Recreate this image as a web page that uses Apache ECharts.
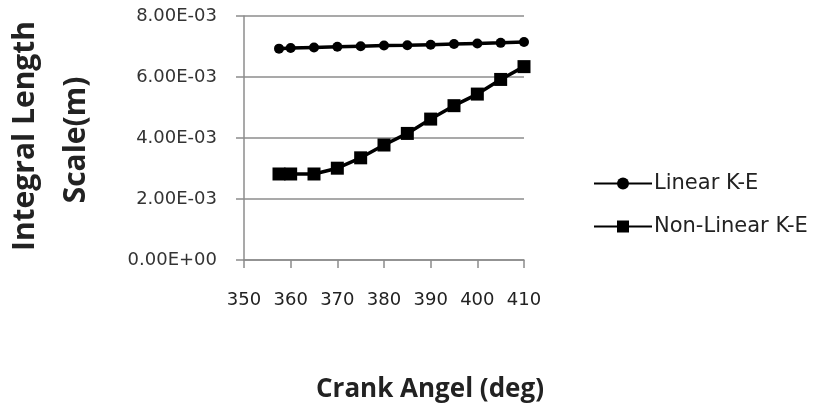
<!DOCTYPE html>
<html>
<head>
<meta charset="utf-8">
<title>Integral Length Scale</title>
<script src="https://cdn.jsdelivr.net/npm/echarts@6/dist/echarts.min.js"></script>
<style>
  body { margin: 0; background: #fff; }
  #main { width: 816px; height: 409px; }
</style>
</head>
<body>
<div id="main"></div>
<script>
// crank angle (deg)
var angles = [357.5, 360, 365, 370, 375, 380, 385, 390, 395, 400, 405, 410];
// integral length scale (m)
var linearKE = [0.00693, 0.00695, 0.00697, 0.00699, 0.00701, 0.00703, 0.00704, 0.00706, 0.00708, 0.00710, 0.00712, 0.00715];
var nonLinearKE = [0.00282, 0.00282, 0.00282, 0.00301, 0.00335, 0.00377, 0.00415, 0.00462, 0.00506, 0.00544, 0.00592, 0.00634];
var seriesNames = ['Linear K-E', 'Non-Linear K-E'];

function pairs(xs, ys) {
  return xs.map(function (x, i) { return [x, ys[i]]; });
}

// excel style 8.00E-03
function sci(v) {
  if (v === 0) return '0.00E+00';
  var e = Math.floor(Math.log10(Math.abs(v)) + 1e-9);
  var m = v / Math.pow(10, e);
  var ae = Math.abs(e);
  return m.toFixed(2) + 'E' + (e < 0 ? '-' : '+') + (ae < 10 ? '0' : '') + ae;
}

var axisGray = { color: '#8c8c8c', width: 1.5 };
var titleFont = 'bold 30px "Open Sans"';

var chart = echarts.init(document.getElementById('main'));
chart.setOption({
  animation: false,
  grid: { left: 244, top: 16, right: 292, bottom: 149 },
  xAxis: {
    type: 'value', min: 350, max: 410, interval: 10,
    axisLine: { lineStyle: axisGray },
    axisTick: { length: 8, lineStyle: axisGray },
    axisLabel: { color: '#222', fontFamily: 'DejaVu Sans', fontSize: 18, margin: 31 },
    splitLine: { show: false }
  },
  yAxis: {
    type: 'value', min: 0, max: 0.008, interval: 0.002,
    axisLine: { show: true, lineStyle: axisGray },
    axisTick: { show: true, length: 8, lineStyle: axisGray },
    axisLabel: { color: '#333', fontFamily: 'DejaVu Sans', fontSize: 18, margin: 27, formatter: sci },
    splitLine: { lineStyle: axisGray }
  },
  legend: {
    orient: 'vertical', left: 588, top: 168, itemGap: 22,
    itemWidth: 58, itemHeight: 15,
    textStyle: { color: '#222', fontFamily: 'DejaVu Sans', fontSize: 21, padding: [0, 0, 0, -3] },
    data: seriesNames
  },
  graphic: [
    { type: 'text', x: 25, y: 136, rotation: Math.PI / 2,
      style: { text: 'Integral Length', font: titleFont, fill: '#222', align: 'center', verticalAlign: 'middle' } },
    { type: 'text', x: 76, y: 140, rotation: Math.PI / 2,
      style: { text: 'Scale(m)', font: titleFont, fill: '#222', align: 'center', verticalAlign: 'middle' } },
    { type: 'text', x: 430, y: 390,
      style: { text: 'Crank Angel (deg)', font: 'bold 26px "Open Sans"', fill: '#222', align: 'center', verticalAlign: 'middle' } }
  ],
  series: [
    {
      name: seriesNames[0], type: 'line', data: pairs(angles, linearKE),
      symbol: 'circle', symbolSize: 10,
      lineStyle: { color: '#000', width: 3.5 }, itemStyle: { color: '#000' }
    },
    {
      name: seriesNames[1], type: 'line', data: pairs(angles, nonLinearKE),
      symbol: 'rect', symbolSize: 13,
      lineStyle: { color: '#000', width: 3.5 }, itemStyle: { color: '#000' }
    }
  ]
});
</script>
</body>
</html>
